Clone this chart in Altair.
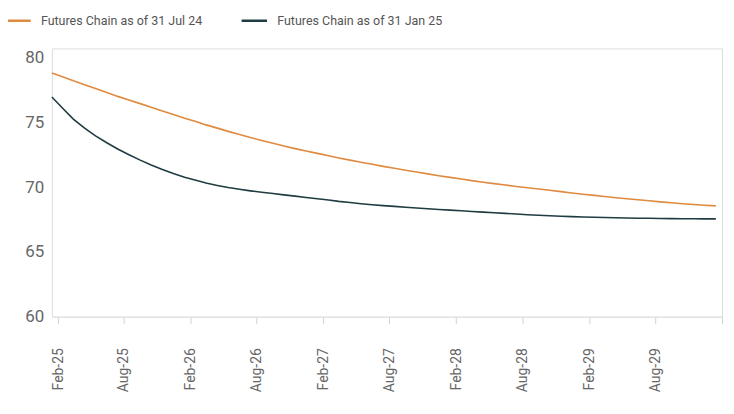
import altair as alt
import pandas as pd

# Monthly points, Jan-25 .. Jan-30 (mid-month)
dates = [f"{2025 + (i // 12)}-{(i % 12) + 1:02d}-15" for i in range(61)]

jul24 = [78.8, 78.5, 78.2, 77.9, 77.6, 77.3, 77.0, 76.72, 76.44, 76.16,
         75.88, 75.6, 75.32, 75.06, 74.8, 74.55, 74.3, 74.06, 73.82, 73.6,
         73.38, 73.17, 72.97, 72.78, 72.6, 72.42, 72.25, 72.08, 71.92, 71.76,
         71.6, 71.45, 71.3, 71.16, 71.02, 70.88, 70.75, 70.62, 70.5, 70.38,
         70.27, 70.16, 70.05, 69.95, 69.85, 69.75, 69.65, 69.55, 69.45, 69.36,
         69.27, 69.18, 69.1, 69.02, 68.94, 68.86, 68.79, 68.72, 68.66, 68.6,
         68.55]

jan25 = [76.95, 76.05, 75.25, 74.55, 73.95, 73.42, 72.94, 72.5, 72.08, 71.7,
         71.35, 71.04, 70.76, 70.52, 70.31, 70.13, 69.97, 69.83, 69.71, 69.6,
         69.5, 69.4, 69.3, 69.2, 69.1, 69.0, 68.9, 68.81, 68.72, 68.64,
         68.57, 68.51, 68.45, 68.39, 68.33, 68.27, 68.22, 68.17, 68.12, 68.07,
         68.02, 67.97, 67.92, 67.87, 67.83, 67.79, 67.75, 67.72, 67.69, 67.67,
         67.65, 67.63, 67.61, 67.6, 67.59, 67.58, 67.57, 67.56, 67.56, 67.55,
         67.55]

series_names = ["Futures Chain as of 31 Jul 24", "Futures Chain as of 31 Jan 25"]
series_colors = ["#df8a3f", "#1f3c42"]
y_ticks = [60, 65, 70, 75, 80]

df = pd.concat([
    pd.DataFrame({"date": dates, "price": jul24, "series": series_names[0]}),
    pd.DataFrame({"date": dates, "price": jan25, "series": series_names[1]}),
])

tick_dates = []
for yr in range(2025, 2030):
    tick_dates.append(alt.DateTime(year=yr, month=2, date=1, utc=True))
    tick_dates.append(alt.DateTime(year=yr, month=8, date=1, utc=True))
tick_dates.append(alt.DateTime(year=2030, month=2, date=1, utc=True))

chart = alt.Chart(df).mark_line(strokeWidth=1.6).encode(
    x=alt.X("date:T",
            scale=alt.Scale(type="utc",
                            domain=[alt.DateTime(year=2025, month=1, date=15, utc=True),
                                    alt.DateTime(year=2030, month=2, date=1, utc=True)]),
            axis=alt.Axis(values=tick_dates, title=None, grid=False,
                          labelExpr="utcyear(datum.value) >= 2030 ? '' : utcFormat(datum.value, '%b-%y')",
                          labelAngle=-90, labelFontSize=14, labelColor="#666666",
                          labelFont="Roboto", labelPadding=24,
                          tickColor="#cfd3d3", tickSize=7, domainColor="#dde1e1",
                          labelOverlap=False)),
    y=alt.Y("price:Q",
            scale=alt.Scale(domain=[60, 80.7], nice=False, zero=False),
            axis=alt.Axis(values=y_ticks, title=None, grid=False, domain=False, ticks=False,
                          labelFontSize=17, labelColor="#666666", labelFont="Roboto",
                          labelPadding=8, minExtent=44, maxExtent=44)),
    color=alt.Color("series:N",
                    scale=alt.Scale(domain=series_names, range=series_colors),
                    legend=alt.Legend(title=None, orient="none", direction="horizontal",
                                      legendX=-48, legendY=-42,
                                      symbolType="stroke", symbolSize=650,
                                      symbolStrokeWidth=2.5, labelFontSize=12.5,
                                      labelFont="Liberation Sans Narrow, Roboto, sans-serif",
                                      labelColor="#555555", columnPadding=34,
                                      labelOffset=9, labelLimit=400)),
).properties(
    width=672, height=269,
    padding={"left": 44, "top": 40, "right": 4, "bottom": 80},
    autosize=alt.AutoSizeParams(type="none"),
).configure_view(
    fill="#f4f6f6", stroke=None
).configure(background="white")

chart.save("out.html", embed_options={"renderer": "svg", "actions": False})
